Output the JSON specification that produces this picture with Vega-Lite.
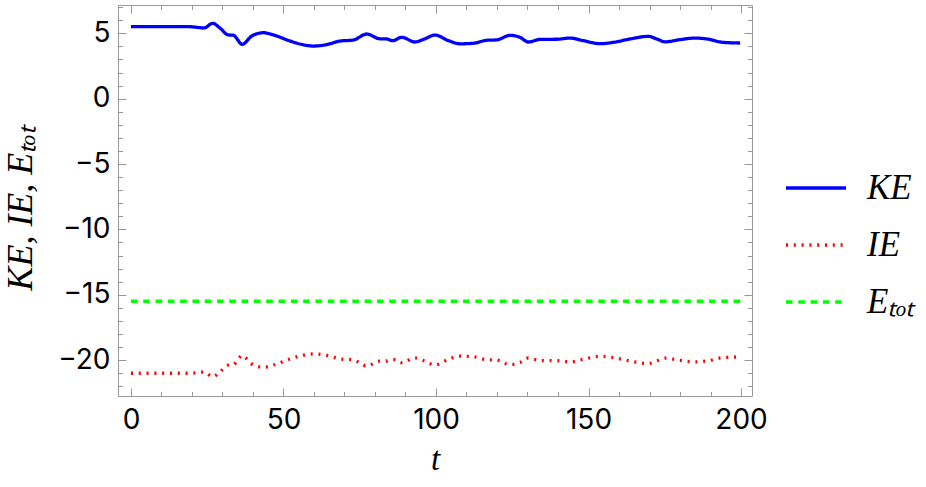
{
  "$schema": "https://vega.github.io/schema/vega-lite/v6.json",
  "width": 634,
  "height": 391,
  "autosize": {"type": "none"},
  "padding": {"left": 118, "top": 5, "right": 174, "bottom": 91},
  "background": "white",
  "config": {
    "view": {"stroke": null},
    "axis": {
      "grid": false,
      "domainColor": "#999999",
      "domainWidth": 1,
      "tickColor": "#999999",
      "tickWidth": 1,
      "labelFont": "Inter",
      "labelFontSize": 28,
      "labelColor": "black",
      "labelFlush": false,
      "labelOverlap": false,
      "titleFont": "Liberation Serif",
      "titleFontStyle": "italic",
      "titleFontWeight": "normal",
      "titleFontSize": 32,
      "titleColor": "black"
    }
  },
  "datasets": {
    "energy": [
      {"t": 0, "v": 5.51, "series": "KE"},
      {"t": 10, "v": 5.51, "series": "KE"},
      {"t": 19, "v": 5.51, "series": "KE"},
      {"t": 24, "v": 5.42, "series": "KE"},
      {"t": 26.8, "v": 5.77, "series": "KE"},
      {"t": 29.2, "v": 5.4, "series": "KE"},
      {"t": 31.9, "v": 4.88, "series": "KE"},
      {"t": 33.5, "v": 4.86, "series": "KE"},
      {"t": 36.5, "v": 4.16, "series": "KE"},
      {"t": 39.5, "v": 4.78, "series": "KE"},
      {"t": 43.4, "v": 5.05, "series": "KE"},
      {"t": 46.7, "v": 4.88, "series": "KE"},
      {"t": 52.1, "v": 4.42, "series": "KE"},
      {"t": 56, "v": 4.15, "series": "KE"},
      {"t": 59.8, "v": 4.03, "series": "KE"},
      {"t": 64.2, "v": 4.14, "series": "KE"},
      {"t": 68.5, "v": 4.41, "series": "KE"},
      {"t": 72.9, "v": 4.49, "series": "KE"},
      {"t": 77.3, "v": 4.95, "series": "KE"},
      {"t": 81.6, "v": 4.58, "series": "KE"},
      {"t": 83.8, "v": 4.57, "series": "KE"},
      {"t": 85.8, "v": 4.44, "series": "KE"},
      {"t": 88.8, "v": 4.7, "series": "KE"},
      {"t": 93.1, "v": 4.34, "series": "KE"},
      {"t": 96, "v": 4.55, "series": "KE"},
      {"t": 99.7, "v": 4.87, "series": "KE"},
      {"t": 104, "v": 4.45, "series": "KE"},
      {"t": 107.9, "v": 4.2, "series": "KE"},
      {"t": 112.2, "v": 4.24, "series": "KE"},
      {"t": 116.6, "v": 4.47, "series": "KE"},
      {"t": 119.9, "v": 4.5, "series": "KE"},
      {"t": 124.3, "v": 4.85, "series": "KE"},
      {"t": 127.5, "v": 4.7, "series": "KE"},
      {"t": 130.3, "v": 4.34, "series": "KE"},
      {"t": 134.1, "v": 4.54, "series": "KE"},
      {"t": 139.6, "v": 4.55, "series": "KE"},
      {"t": 143.9, "v": 4.64, "series": "KE"},
      {"t": 148.3, "v": 4.44, "series": "KE"},
      {"t": 153.8, "v": 4.21, "series": "KE"},
      {"t": 158.1, "v": 4.31, "series": "KE"},
      {"t": 163.6, "v": 4.57, "series": "KE"},
      {"t": 169.6, "v": 4.77, "series": "KE"},
      {"t": 172.4, "v": 4.57, "series": "KE"},
      {"t": 175.1, "v": 4.35, "series": "KE"},
      {"t": 180, "v": 4.52, "series": "KE"},
      {"t": 184.9, "v": 4.64, "series": "KE"},
      {"t": 188.8, "v": 4.57, "series": "KE"},
      {"t": 194.2, "v": 4.31, "series": "KE"},
      {"t": 199.7, "v": 4.26, "series": "KE"},
      {"t": 0, "v": -21.01, "series": "IE"},
      {"t": 10, "v": -21.01, "series": "IE"},
      {"t": 19, "v": -21.01, "series": "IE"},
      {"t": 24, "v": -20.92, "series": "IE"},
      {"t": 26.8, "v": -21.27, "series": "IE"},
      {"t": 29.2, "v": -20.9, "series": "IE"},
      {"t": 31.9, "v": -20.38, "series": "IE"},
      {"t": 33.5, "v": -20.36, "series": "IE"},
      {"t": 36.5, "v": -19.66, "series": "IE"},
      {"t": 39.5, "v": -20.28, "series": "IE"},
      {"t": 43.4, "v": -20.55, "series": "IE"},
      {"t": 46.7, "v": -20.38, "series": "IE"},
      {"t": 52.1, "v": -19.92, "series": "IE"},
      {"t": 56, "v": -19.65, "series": "IE"},
      {"t": 59.8, "v": -19.53, "series": "IE"},
      {"t": 64.2, "v": -19.64, "series": "IE"},
      {"t": 68.5, "v": -19.91, "series": "IE"},
      {"t": 72.9, "v": -19.99, "series": "IE"},
      {"t": 77.3, "v": -20.45, "series": "IE"},
      {"t": 81.6, "v": -20.08, "series": "IE"},
      {"t": 83.8, "v": -20.07, "series": "IE"},
      {"t": 85.8, "v": -19.94, "series": "IE"},
      {"t": 88.8, "v": -20.2, "series": "IE"},
      {"t": 93.1, "v": -19.84, "series": "IE"},
      {"t": 96, "v": -20.05, "series": "IE"},
      {"t": 99.7, "v": -20.37, "series": "IE"},
      {"t": 104, "v": -19.95, "series": "IE"},
      {"t": 107.9, "v": -19.7, "series": "IE"},
      {"t": 112.2, "v": -19.74, "series": "IE"},
      {"t": 116.6, "v": -19.97, "series": "IE"},
      {"t": 119.9, "v": -20.0, "series": "IE"},
      {"t": 124.3, "v": -20.35, "series": "IE"},
      {"t": 127.5, "v": -20.2, "series": "IE"},
      {"t": 130.3, "v": -19.84, "series": "IE"},
      {"t": 134.1, "v": -20.04, "series": "IE"},
      {"t": 139.6, "v": -20.05, "series": "IE"},
      {"t": 143.9, "v": -20.14, "series": "IE"},
      {"t": 148.3, "v": -19.94, "series": "IE"},
      {"t": 153.8, "v": -19.71, "series": "IE"},
      {"t": 158.1, "v": -19.81, "series": "IE"},
      {"t": 163.6, "v": -20.07, "series": "IE"},
      {"t": 169.6, "v": -20.27, "series": "IE"},
      {"t": 172.4, "v": -20.07, "series": "IE"},
      {"t": 175.1, "v": -19.85, "series": "IE"},
      {"t": 180, "v": -20.02, "series": "IE"},
      {"t": 184.9, "v": -20.14, "series": "IE"},
      {"t": 188.8, "v": -20.07, "series": "IE"},
      {"t": 194.2, "v": -19.81, "series": "IE"},
      {"t": 199.7, "v": -19.76, "series": "IE"},
      {"t": 0, "v": -15.5, "series": "Eₜₒₜ"},
      {"t": 200, "v": -15.5, "series": "Eₜₒₜ"}
    ]
  },
  "resolve": {"axis": {"x": "independent", "y": "independent"}},
  "layer": [
    {
      "data": {"name": "energy"},
      "transform": [{"filter": "datum.series !== 'Eₜₒₜ'"}],
      "mark": {"type": "line", "interpolate": "monotone", "strokeWidth": 3.3, "strokeCap": "butt"},
      "encoding": {
        "x": {
          "field": "t", "type": "quantitative",
          "scale": {"domain": [-4.25, 203.6], "nice": false, "zero": false},
          "axis": {
            "orient": "bottom",
            "values": [0, 10, 20, 30, 40, 50, 60, 70, 80, 90, 100, 110, 120, 130, 140, 150, 160, 170, 180, 190, 200],
            "labelExpr": "datum.value % 50 === 0 ? datum.label : ''",
            "tickSize": {"condition": {"test": "datum.value % 50 === 0", "value": -8}, "value": -4.5},
            "labelPadding": 18,
            "title": "t",
            "titlePadding": 6,
            "titleFontSize": 33
          }
        },
        "y": {
          "field": "v", "type": "quantitative",
          "scale": {"domain": [-22.75, 7.17], "nice": false, "zero": false},
          "axis": {
            "orient": "left",
            "values": [-22, -21, -20, -19, -18, -17, -16, -15, -14, -13, -12, -11, -10, -9, -8, -7, -6, -5, -4, -3, -2, -1, 0, 1, 2, 3, 4, 5, 6, 7],
            "labelExpr": "datum.value % 5 === 0 ? datum.label : ''",
            "tickSize": {"condition": {"test": "datum.value % 5 === 0", "value": -8}, "value": -4.5},
            "labelPadding": 16,
            "title": "KE, IE, Eₜₒₜ",
            "titleFontSize": 36,
            "titlePadding": 18,
            "titleY": 203
          }
        },
        "color": {
          "field": "series", "type": "nominal",
          "scale": {"domain": ["KE", "IE", "Eₜₒₜ"], "range": ["#0000ff", "#ff0000", "#00ff00"]},
          "legend": {
            "orient": "none", "legendX": 666, "legendY": 151, "title": null,
            "symbolType": "stroke", "symbolSize": 3600, "symbolStrokeWidth": 3.3,
            "labelFont": "Liberation Serif", "labelFontStyle": "italic", "labelFontSize": 35,
            "labelColor": "black", "labelOffset": 19, "rowPadding": 7
          }
        },
        "strokeDash": {
          "field": "series", "type": "nominal",
          "scale": {"domain": ["KE", "IE", "Eₜₒₜ"], "range": [[1, 0], [2, 5.8], [6.5, 5.8]]},
          "legend": {
            "orient": "none", "legendX": 666, "legendY": 151, "title": null,
            "symbolType": "stroke", "symbolSize": 3600, "symbolStrokeWidth": 3.3,
            "labelFont": "Liberation Serif", "labelFontStyle": "italic", "labelFontSize": 35,
            "labelColor": "black", "labelOffset": 19, "rowPadding": 7
          }
        }
      }
    },
    {
      "data": {"name": "energy"},
      "transform": [{"filter": "datum.series === 'Eₜₒₜ'"}],
      "mark": {"type": "line", "strokeWidth": 3.3, "strokeCap": "butt"},
      "encoding": {
        "x": {
          "field": "t", "type": "quantitative",
          "axis": {
            "orient": "top",
            "values": [0, 10, 20, 30, 40, 50, 60, 70, 80, 90, 100, 110, 120, 130, 140, 150, 160, 170, 180, 190, 200],
            "labels": false,
            "tickSize": {"condition": {"test": "datum.value % 50 === 0", "value": -8}, "value": -4.5},
            "title": null
          }
        },
        "y": {
          "field": "v", "type": "quantitative",
          "axis": {
            "orient": "right",
            "values": [-22, -21, -20, -19, -18, -17, -16, -15, -14, -13, -12, -11, -10, -9, -8, -7, -6, -5, -4, -3, -2, -1, 0, 1, 2, 3, 4, 5, 6, 7],
            "labels": false,
            "tickSize": {"condition": {"test": "datum.value % 5 === 0", "value": -8}, "value": -4.5},
            "title": null
          }
        },
        "color": {"field": "series", "type": "nominal"},
        "strokeDash": {"field": "series", "type": "nominal"}
      }
    },
    {
      "mark": {"type": "rule", "color": "#777777", "strokeWidth": 1},
      "encoding": {"y": {"datum": 0, "type": "quantitative", "axis": null}}
    }
  ]
}
